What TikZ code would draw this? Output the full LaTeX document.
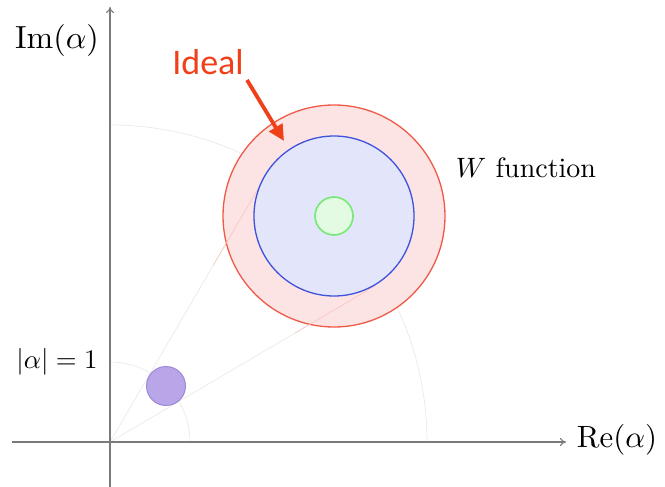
\documentclass[tikz,border=0pt]{standalone}
\usepackage{fontspec}
\newfontfamily\carlito{Carlito}
\usetikzlibrary{arrows.meta}
\definecolor{axisgray}{HTML}{7A7A7A}
\definecolor{faint}{HTML}{E4E8E4}
\definecolor{ringred}{HTML}{EE5A48}
\definecolor{ringfill}{HTML}{FDE4E4}
\definecolor{blueline}{HTML}{3E52DC}
\definecolor{bluefill}{HTML}{E3E6FA}
\definecolor{greenline}{HTML}{74EA74}
\definecolor{greenfill}{HTML}{E2FBE2}
\definecolor{purpfill}{HTML}{B8A6E8}
\definecolor{purpline}{HTML}{9D88D8}
\definecolor{idealred}{HTML}{F0401A}
\begin{document}
\begin{tikzpicture}[x=1pt,y=-1pt,
  axis/.style={draw=axisgray,line width=1.1pt,-{To[length=6pt,width=8pt]}},
  guide/.style={draw=faint,line width=0.6pt},
  lbl/.style={inner sep=0pt,anchor=center},
  ring/.style={circle,inner sep=0pt,line width=1.3pt}]
\useasboundingbox (0,0) rectangle (665,487);
\coordinate (O) at (110,442);
% guides
\draw[guide] (O) ++(80,0) arc[start angle=0,end angle=-90,radius=80];
\draw[guide] (O) ++(317,0) arc[start angle=0,end angle=-90,radius=317];
\draw[guide] (O) -- ++(-59.7:308);
\draw[guide] (O) -- ++(-30.5:308);
% circles
\node[ring,minimum size=222pt,draw=ringred,fill=ringfill] (red) at (334,216) {};
\draw[guide,draw=ringred!35] (O) ++(-59.7:205) -- ++(-59.7:103);
\draw[guide,draw=ringred!35] (O) ++(-30.5:215) -- ++(-30.5:93);
\node[ring,minimum size=160pt,draw=blueline,fill=bluefill] (blue) at (334,216) {};
\node[ring,minimum size=38pt,line width=1.6pt,draw=greenline,fill=greenfill] (green) at (334,216) {};
\node[ring,minimum size=39pt,line width=1pt,draw=purpline,fill=purpfill] (purp) at (166,386) {};
% axes
\coordinate (xs) at (12,442); \coordinate (xe) at (566,442);
\coordinate (ys) at (110,487); \coordinate (ye) at (110,7);
\draw[axis] (xs) -- (xe);
\draw[axis] (ys) -- (ye);
% labels
\node[lbl] (im) at (57,41) {\scalebox{3.2}{$\mathrm{Im}(\alpha)$}};
\node[lbl] (re) at (617,440) {\scalebox{3.08}{$\mathrm{Re}(\alpha)$}};
\node[lbl] (abs) at (57,362) {\scalebox{2.68}{$|\alpha| = 1$}};
\node[lbl] (wf) at (526,168) {\scalebox{2.8}{$W$ function}};
\node[lbl,text=idealred] (ideal) at (208,62) {\fontsize{36}{40}\selectfont\carlito Ideal};
\coordinate (tip) at (284,141);
\draw[idealred,line width=3.8pt,-{Triangle[length=16pt,width=15pt]}] (247,80) -- (tip);
\end{tikzpicture}
\end{document}
